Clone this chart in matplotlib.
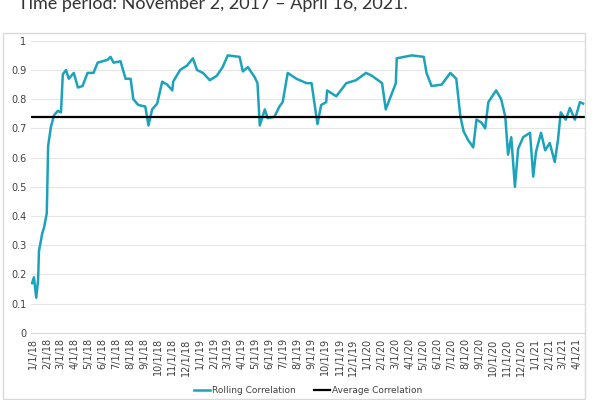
import numpy as np
import pandas as pd
import matplotlib
matplotlib.use("Agg")
import matplotlib.pyplot as plt
from matplotlib.patches import Rectangle

# Rolling correlation
dates = pd.to_datetime([
    "2017-12-30", "2018-01-03", "2018-01-08", "2018-01-12", "2018-01-14", "2018-01-21",
    "2018-01-25", "2018-01-31", "2018-02-03", "2018-02-09", "2018-02-16", "2018-02-24",
    "2018-03-03", "2018-03-07", "2018-03-14", "2018-03-20", "2018-03-31", "2018-04-09",
    "2018-04-19", "2018-04-30", "2018-05-13", "2018-05-22", "2018-06-13", "2018-06-19",
    "2018-06-26", "2018-07-11", "2018-07-22", "2018-08-02", "2018-08-08", "2018-08-19",
    "2018-09-03", "2018-09-10", "2018-09-18", "2018-09-29", "2018-10-10", "2018-10-21",
    "2018-11-01", "2018-11-03", "2018-11-18", "2018-12-03", "2018-12-16", "2018-12-25",
    "2019-01-07", "2019-01-22", "2019-02-06", "2019-02-19", "2019-03-02", "2019-03-28",
    "2019-04-04", "2019-04-15", "2019-04-30", "2019-05-06", "2019-05-11", "2019-05-22",
    "2019-05-28", "2019-06-12", "2019-06-23", "2019-06-30", "2019-07-11", "2019-07-30",
    "2019-08-21", "2019-09-01", "2019-09-07", "2019-09-14", "2019-09-22", "2019-10-03",
    "2019-10-05", "2019-10-25", "2019-11-16", "2019-12-07", "2019-12-29", "2020-01-11",
    "2020-02-02", "2020-02-10", "2020-02-21", "2020-03-03", "2020-03-05", "2020-04-07",
    "2020-05-03", "2020-05-09", "2020-05-20", "2020-06-11", "2020-06-30", "2020-07-13",
    "2020-07-22", "2020-07-29", "2020-08-08", "2020-08-19", "2020-08-26", "2020-09-06",
    "2020-09-14", "2020-09-21", "2020-10-08", "2020-10-19", "2020-10-28", "2020-11-03",
    "2020-11-10", "2020-11-18", "2020-11-25", "2020-12-06", "2020-12-21", "2020-12-28",
    "2021-01-03", "2021-01-14", "2021-01-23", "2021-02-02", "2021-02-13", "2021-02-20",
    "2021-02-26", "2021-03-09", "2021-03-18", "2021-03-29", "2021-04-09", "2021-04-16",
])
rolling = [
    0.17, 0.19, 0.12, 0.18, 0.28, 0.34,
    0.36, 0.41, 0.64, 0.705, 0.745, 0.76,
    0.755, 0.885, 0.90, 0.87, 0.89, 0.84,
    0.845, 0.89, 0.89, 0.925, 0.935, 0.945,
    0.925, 0.93, 0.87, 0.87, 0.80, 0.78,
    0.775, 0.71, 0.765, 0.785, 0.86, 0.85,
    0.83, 0.86, 0.90, 0.915, 0.94, 0.90,
    0.89, 0.865, 0.88, 0.91, 0.95, 0.945,
    0.895, 0.91, 0.875, 0.855, 0.71, 0.765,
    0.735, 0.74, 0.775, 0.79, 0.89, 0.87,
    0.855, 0.855, 0.79, 0.715, 0.78, 0.79,
    0.83, 0.81, 0.855, 0.865, 0.89, 0.88,
    0.855, 0.765, 0.81, 0.855, 0.94, 0.95,
    0.945, 0.89, 0.845, 0.85, 0.89, 0.87,
    0.74, 0.69, 0.66, 0.635, 0.73, 0.72,
    0.70, 0.79, 0.83, 0.80, 0.74, 0.61,
    0.67, 0.50, 0.63, 0.67, 0.685, 0.535,
    0.62, 0.685, 0.625, 0.65, 0.585, 0.66,
    0.755, 0.73, 0.77, 0.73, 0.79, 0.785,
]
average_corr = 0.74

tick_dates = pd.date_range("2018-01-01", "2021-04-01", freq="MS")
tick_labels = [f"{d.month}/{d.day}/{d.year % 100}" for d in tick_dates]
y_ticks = np.round(np.arange(0, 1.01, 0.1), 1)

text_col = "#404040"
fig = plt.figure(figsize=(6, 4), dpi=100)
fig.patches.append(Rectangle((0.005, 0.003), 0.97, 0.915, transform=fig.transFigure,
                             fill=False, edgecolor="#d9d9d9", linewidth=1))
# caption is cut at the top edge in the reference as well
fig.text(0.03, 1.01, "Time period: November 2, 2017 – April 16, 2021.", fontsize=13,
         color="#333333", va="top", family="Lato")

ax = fig.add_axes([0.052, 0.168, 0.923, 0.73])
ax.plot(dates, rolling, color="#1ba3bb", linewidth=1.8, label="Rolling Correlation")
ax.axhline(average_corr, color="black", linewidth=1.6, label="Average Correlation")

ax.set_ylim(0, 1)
ax.set_yticks(y_ticks)
ax.set_yticklabels([f"{v:g}" for v in y_ticks])
ax.set_xlim(pd.Timestamp("2017-12-28"), pd.Timestamp("2021-04-20"))
ax.set_xticks(tick_dates)
ax.set_xticklabels(tick_labels, rotation=90)
ax.tick_params(axis="both", labelsize=7, colors=text_col, length=0)
ax.tick_params(axis="x", pad=4)
ax.grid(axis="y", color="#e6e6e6", linewidth=0.8)
ax.set_axisbelow(True)
for s in ["top", "right", "left"]:
    ax.spines[s].set_visible(False)
ax.spines["bottom"].set_color("#d9d9d9")

ax.legend(loc="upper center", bbox_to_anchor=(0.5, -0.155), ncol=2, frameon=False,
          fontsize=6.5, handlelength=1.8, handletextpad=0.2, columnspacing=2,
          labelcolor=text_col)

fig.savefig("out.png", dpi=100)
